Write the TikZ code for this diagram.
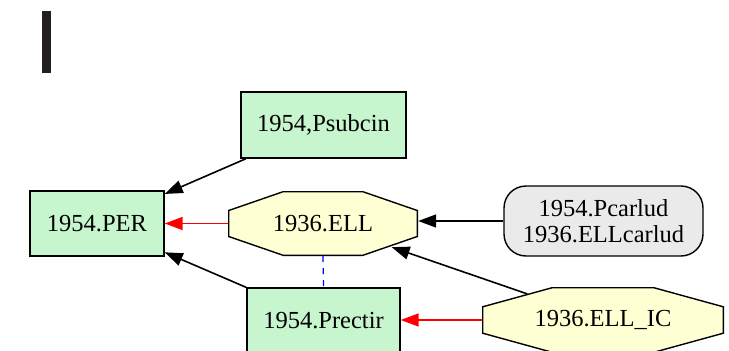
\documentclass[tikz,border=0pt]{standalone}
\usepackage{fontspec}
\setmainfont{Liberation Serif}
\usetikzlibrary{arrows.meta,calc,positioning}

\definecolor{boxgreen}{RGB}{198,245,206}
\definecolor{octyellow}{RGB}{255,255,212}
\definecolor{notegrey}{RGB}{234,234,234}
\definecolor{barblack}{RGB}{35,31,32}

\tikzset{
  lbl/.style={inner sep=0pt, font=\fontsize{24.5}{26}\selectfont, align=center},
  box/.style={lbl, draw, line width=1.4pt, fill=boxgreen},
  note/.style={lbl, draw, line width=1.4pt, fill=notegrey, rounded corners=22pt},
  octa/.style={lbl, path picture={
    \draw[line width=1.4pt, fill=octyellow]
      let \p1=(path picture bounding box.south west),
          \p2=(path picture bounding box.north east),
          \n1={0.29*(\x2-\x1)}, \n2={0.3*(\y2-\y1)} in
      (\x1+0.7pt,\y1+\n2) -- (\x1+0.7pt,\y2-\n2) -- (\x1+\n1,\y2-0.7pt)
      -- (\x2-\n1,\y2-0.7pt) -- (\x2-0.7pt,\y2-\n2) -- (\x2-0.7pt,\y1+\n2)
      -- (\x2-\n1,\y1+0.7pt) -- (\x1+\n1,\y1+0.7pt) -- cycle;}},
  edge/.style={line width=1.6pt, -{Triangle[length=18pt,width=13pt]}},
  sameas/.style={draw=blue, line width=1.2pt, dash pattern=on 6pt off 6pt},
}

\begin{document}
\begin{tikzpicture}[x=1pt,y=-1pt]
\useasboundingbox (0,0) rectangle (729,351);

\fill[barblack] (42,11) rectangle (51,73);

\node[box, minimum width=134pt, minimum height=65pt] (per) at (97,223.3) {1954.PER};
\node[box, minimum width=165pt, minimum height=66pt] (psubcin) at (323.5,125) {1954,Psubcin};
\node[box, minimum width=153pt, minimum height=65pt] (prectir) at (323.5,320.5) {1954.Prectir};
\node[octa, minimum width=190pt, minimum height=65pt] (ell) at (323,223.5) {1936.ELL};
\node[note, minimum width=199pt, minimum height=70pt] (pcarlud) at (603.5,221) {1954.Pcarlud\\1936.ELLcarlud};
\node[octa, minimum width=242pt, minimum height=66pt] (ellic) at (603,320) {1936.ELL\_IC};

% edges
\draw[edge] (psubcin) -- (per);
\draw[edge] (prectir) -- (per);
\draw[edge, red] (ell.west) -- (per.east |- ell.west);
\draw[edge] (pcarlud.west) -- (ell.east |- pcarlud.west);
\draw[edge] ($(ellic.center)!0.27!(ell.center)$) -- ($(ell.center)!0.245!(ellic.center)$);
\draw[edge, red] (ellic.west) -- (prectir.east |- ellic.west);
\draw[sameas] (ell.south) -- (prectir.north);
\end{tikzpicture}
\end{document}
